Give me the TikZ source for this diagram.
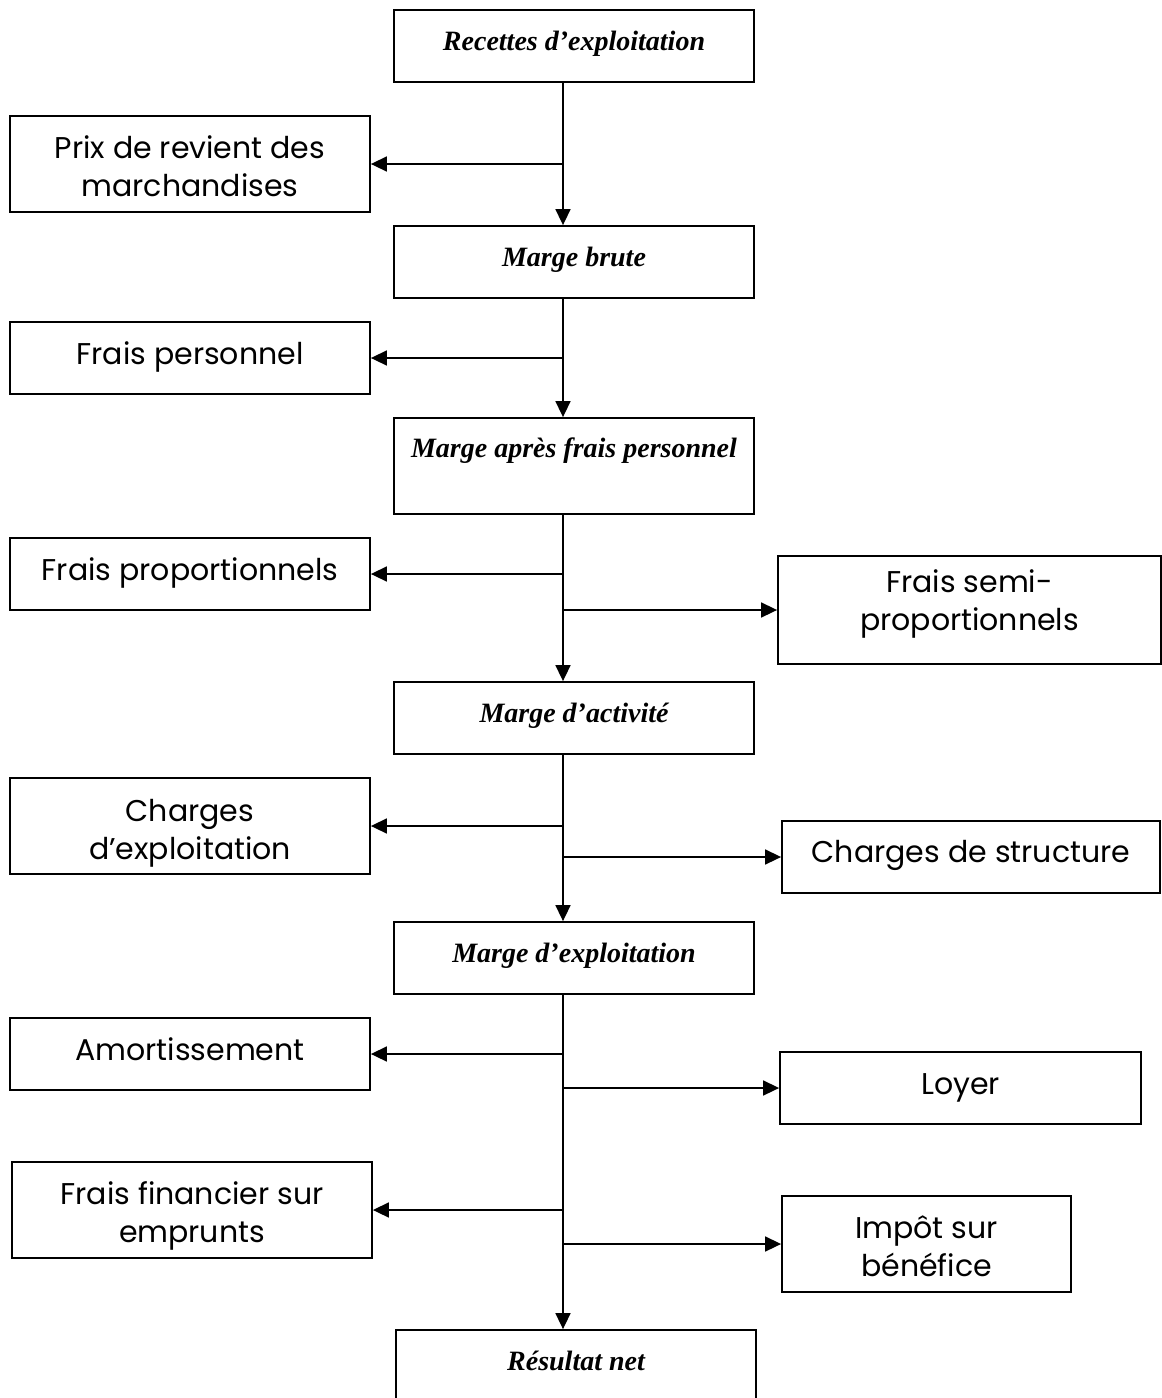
\documentclass[tikz,border=0pt]{standalone}
\usepackage{fontspec}
\setmainfont{Liberation Serif}
\newfontfamily\gothic{Poppins}
\usepackage{tikz}
\usetikzlibrary{arrows.meta,calc,positioning}

\tikzset{
  box/.style={draw, line width=1.8pt, inner sep=0pt},
  sidetxt/.style={anchor=base, align=center, inner sep=0pt,
    font=\gothic\fontsize{30}{38}\selectfont},
  margetxt/.style={anchor=base, inner sep=0pt,
    font=\bfseries\itshape\fontsize{28}{34}\selectfont},
  arr/.style={-{Triangle[length=16pt,width=15pt]}, line width=1.6pt}
}

\begin{document}
\begin{tikzpicture}[x=1pt,y=-1pt]
  \useasboundingbox (0,0) rectangle (1162,1398);
  \clip (0,0) rectangle (1162,1398);
  \coordinate (trunk) at (563,0);
  \node[box, minimum width=360, minimum height=72] (rec) at (574,46) {};
  \node[box, minimum width=360, minimum height=96] (prix) at (190,164) {};
  \node[box, minimum width=360, minimum height=72] (mb) at (574,262) {};
  \node[box, minimum width=360, minimum height=72] (fpers) at (190,358) {};
  \node[box, minimum width=360, minimum height=96] (mapf) at (574,466) {};
  \node[box, minimum width=360, minimum height=72] (fprop) at (190,574) {};
  \node[box, minimum width=383, minimum height=108] (fsemi) at (969.5,610) {};
  \node[box, minimum width=360, minimum height=72] (mact) at (574,718) {};
  \node[box, minimum width=360, minimum height=96] (chexp) at (190,826) {};
  \node[box, minimum width=378, minimum height=72] (chstr) at (971,857) {};
  \node[box, minimum width=360, minimum height=72] (mexp) at (574,958) {};
  \node[box, minimum width=360, minimum height=72] (amort) at (190,1054) {};
  \node[box, minimum width=361, minimum height=72] (loyer) at (960.5,1088) {};
  \node[box, minimum width=360, minimum height=96] (ffin) at (192,1210) {};
  \node[box, minimum width=289, minimum height=96] (impot) at (926.5,1244) {};
  \node[box, minimum width=360, minimum height=100] (res) at (576,1380) {};
  \node[margetxt] (rect) at ([yshift=-41pt]rec.north) {Recettes d’exploitation};
  \node[sidetxt] (prixt) at ([yshift=-81pt]prix.north)
    {Prix de revient des\\marchandises};
  \node[margetxt] (mbt) at ([yshift=-41pt]mb.north) {Marge brute};
  \node[sidetxt] (fperst) at ([yshift=-43pt]fpers.north) {Frais personnel};
  \node[margetxt] (mapft) at ([yshift=-40pt]mapf.north)
    {Marge après frais personnel};
  \node[sidetxt] (fpropt) at ([yshift=-43pt]fprop.north) {Frais proportionnels};
  \node[sidetxt] (fsemit) at ([yshift=-75pt]fsemi.north)
    {Frais semi-\\proportionnels};
  \node[margetxt] (mactt) at ([yshift=-41pt]mact.north) {Marge d’activité};
  \node[sidetxt] (chexpt) at ([yshift=-82pt]chexp.north)
    {Charges\\d’exploitation};
  \node[sidetxt] (chstrt) at ([yshift=-42pt]chstr.north) {Charges de structure};
  \node[margetxt] (mexpt) at ([yshift=-41pt]mexp.north) {Marge d’exploitation};
  \node[sidetxt] (amortt) at ([yshift=-43pt]amort.north) {Amortissement};
  \node[sidetxt] (loyert) at ([yshift=-43pt]loyer.north) {Loyer};
  \node[sidetxt] (ffint) at ([yshift=-81pt]ffin.north)
    {Frais financier sur\\emprunts};
  \node[sidetxt] (impott) at ([yshift=-81pt]impot.north)
    {Impôt sur\\bénéfice};
  \node[margetxt] (rest) at ([yshift=-41pt]res.north) {Résultat net};
  \draw[arr] (trunk |- rec.south) -- (trunk |- mb.north);
  \draw[arr] (trunk |- prix.east) -- (prix.east);
  \draw[arr] (trunk |- mb.south) -- (trunk |- mapf.north);
  \draw[arr] (trunk |- fpers.east) -- (fpers.east);
  \draw[arr] (trunk |- mapf.south) -- (trunk |- mact.north);
  \draw[arr] (trunk |- fprop.east) -- (fprop.east);
  \draw[arr] (trunk |- fsemi.west) -- (fsemi.west);
  \draw[arr] (trunk |- mact.south) -- (trunk |- mexp.north);
  \draw[arr] (trunk |- chexp.east) -- (chexp.east);
  \draw[arr] (trunk |- chstr.west) -- (chstr.west);
  \draw[arr] (trunk |- mexp.south) -- (trunk |- res.north);
  \draw[arr] (trunk |- amort.east) -- (amort.east);
  \draw[arr] (trunk |- loyer.west) -- (loyer.west);
  \draw[arr] (trunk |- ffin.east) -- (ffin.east);
  \draw[arr] (trunk |- impot.west) -- (impot.west);
\end{tikzpicture}
\end{document}
